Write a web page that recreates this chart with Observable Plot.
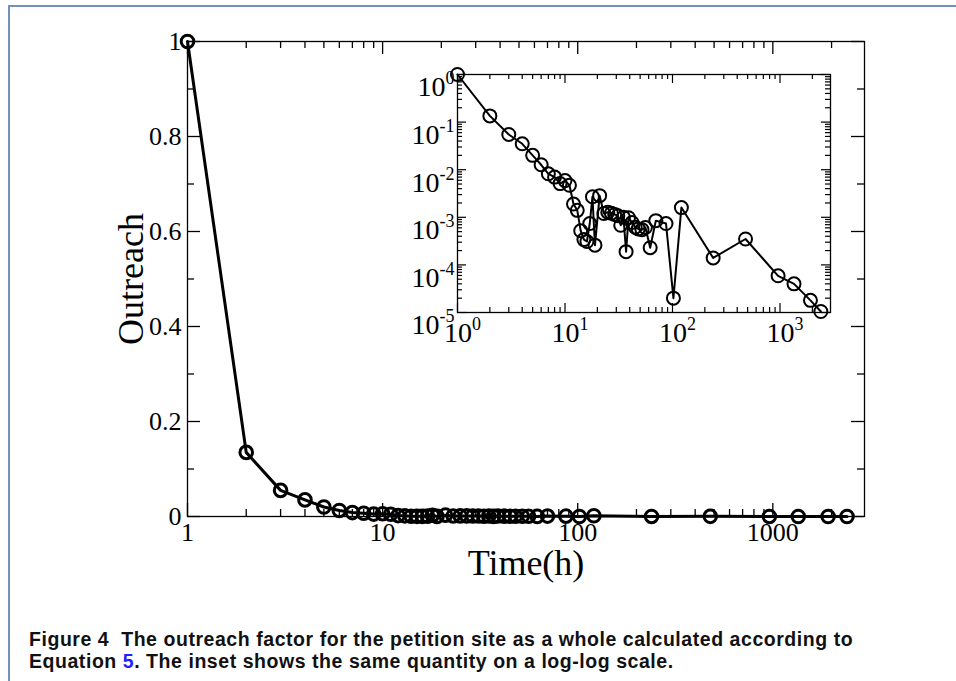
<!DOCTYPE html>
<html><head><meta charset="utf-8">
<script src="https://cdn.jsdelivr.net/npm/d3@7"></script>
<script src="https://cdn.jsdelivr.net/npm/@observablehq/plot@0.6"></script>
<style>
html,body{margin:0;padding:0;background:#fff;}
body{width:956px;height:681px;position:relative;overflow:hidden;font-family:"Liberation Serif",serif;}
#border{position:absolute;left:8px;top:5px;width:960px;height:690px;border-top:2px solid #7391b9;border-left:2px solid #7391b9;}
#main,#inset{position:absolute;left:0;top:0;}
#caption{position:absolute;left:29px;top:628px;font-family:"Liberation Sans",Arial,sans-serif;font-weight:bold;font-size:19.5px;letter-spacing:0.55px;line-height:22px;color:#111;white-space:nowrap;}
#caption .ref{color:#1f1fff;}
</style></head><body>
<div id="border"></div>
<div id="main"></div>
<div id="inset"></div>
<div id="caption">Figure 4&nbsp; The outreach factor for the petition site as a whole calculated according to<br>Equation <span class="ref">5</span>. The inset shows the same quantity on a log-log scale.</div>
<script>
// ---- data ----
const timeHours = [1, 2, 3, 4, 5, 6, 7, 8, 9, 10, 11, 12, 13, 14, 15, 16, 17, 18, 19, 21,
  23, 25, 27, 29, 31, 33, 35, 37, 39, 42, 45, 48, 52, 56, 62, 70, 87, 102, 121, 239,
  478, 960, 1350, 1920, 2400];
const outreach = [1, 0.135, 0.055, 0.035, 0.020, 0.0127, 0.0082, 0.0070, 0.0051, 0.0059,
  0.0047, 0.0019, 0.0014, 0.00052, 0.00034, 0.00031, 0.00074, 0.0027, 0.00026, 0.00285,
  0.0012, 0.00128, 0.00122, 0.00115, 0.00108, 0.00068, 0.0010, 0.00019, 0.00098, 0.00078,
  0.00062, 0.00057, 0.00055, 0.00061, 0.00023, 0.00085, 0.00074, 0.00002, 0.0016, 0.00014,
  0.00035, 0.000059, 0.00004, 0.000018, 0.0000105];

// main axes
const mainXTicks = [1, 10, 100, 1000];
const mainXTickLabels = ["1", "10", "100", "1000"];
const mainYTicks = [0, 0.2, 0.4, 0.6, 0.8, 1];
const mainYTickLabels = ["0", "0.2", "0.4", "0.6", "0.8", "1"];
const mainYMinor = [0.1, 0.3, 0.5, 0.7, 0.9];
// inset axes
const insetXTicks = [1, 10, 100, 1000];
const insetXExponents = ["0", "1", "2", "3"];
const insetYTicks = [1, 0.1, 0.01, 0.001, 0.0001, 0.00001];
const insetYExponents = ["0", "-1", "-2", "-3", "-4", "-5"];
const xLabel = "Time(h)";
const yLabel = "Outreach";

const data = timeHours.map((t, i) => ({t, v: outreach[i]}));
const xMax = 2950;
const logMinor = (decades, max) => decades.flatMap(d => [2,3,4,5,6,7,8,9].map(k => k * d)).filter(v => v <= max);

const W = 956, H = 600;
// ---- main chart ----
{
  const L = 187, R = 864, T = 41, B = 516;
  const fw = R - L, fh = B - T;
  const xMinor = logMinor([1, 10, 100, 1000], xMax);
  const tk = {stroke: "black", strokeWidth: 1.3};
  const chart = Plot.plot({
    width: W, height: H,
    marginLeft: L, marginRight: W - R, marginTop: T, marginBottom: H - B,
    x: {type: "log", domain: [1, xMax]},
    y: {domain: [0, 1]},
    style: {fontFamily: "Liberation Serif", fontSize: "26px", color: "black", background: "none", overflow: "visible"},
    marks: [
      Plot.frame({stroke: "black", strokeWidth: 1.3}),
      Plot.tickX(mainXTicks, {...tk, insetTop: fh - 13}),
      Plot.tickX(xMinor, {...tk, insetTop: fh - 7}),
      Plot.tickX(mainXTicks, {...tk, insetBottom: fh - 13}),
      Plot.tickX(xMinor, {...tk, insetBottom: fh - 7}),
      Plot.tickY(mainYTicks, {...tk, insetRight: fw - 13}),
      Plot.tickY(mainYMinor, {...tk, insetRight: fw - 7}),
      Plot.tickY(mainYTicks, {...tk, insetLeft: fw - 13}),
      Plot.tickY(mainYMinor, {...tk, insetLeft: fw - 7}),
      Plot.axisX({anchor: "bottom", ticks: mainXTicks, tickSize: 0, tickPadding: 6, label: null,
        tickFormat: d => mainXTickLabels[mainXTicks.indexOf(d)], fontSize: 26}),
      Plot.axisY({anchor: "left", ticks: mainYTicks, tickSize: 0, tickPadding: 6, label: null,
        tickFormat: d => mainYTickLabels[mainYTicks.indexOf(d)], fontSize: 26}),
      Plot.text([xLabel], {frameAnchor: "bottom", lineAnchor: "middle", textAnchor: "middle", dy: 47, fontSize: 36, fill: "black"}),
      Plot.text([yLabel], {frameAnchor: "left", lineAnchor: "middle", textAnchor: "middle", dx: -56, rotate: -90, fontSize: 36, fill: "black"}),
      Plot.line(data, {x: "t", y: "v", stroke: "black", strokeWidth: 3}),
      Plot.dot(data, {x: "t", y: "v", r: 6.3, stroke: "black", strokeWidth: 3, fill: "none"})
    ]
  });
  document.getElementById("main").appendChild(chart);
}

// ---- inset ----
{
  const L = 457, R = 830, T = 74, B = 312;
  const fw = R - L, fh = B - T;
  const xMinor = logMinor([1, 10, 100, 1000], xMax);
  const yMinor = logMinor([1e-5, 1e-4, 1e-3, 1e-2, 1e-1], 0.99);
  const tk = {stroke: "black", strokeWidth: 1.2};
  const chart = Plot.plot({
    width: W, height: H,
    marginLeft: L, marginRight: W - R, marginTop: T, marginBottom: H - B,
    x: {type: "log", domain: [1, xMax]},
    y: {type: "log", domain: [1e-5, 1]},
    style: {fontFamily: "Liberation Serif", fontSize: "28px", color: "black", background: "none", overflow: "visible"},
    marks: [
      Plot.frame({stroke: "black", strokeWidth: 1.3}),
      Plot.tickX(insetXTicks, {...tk, insetTop: fh - 9}),
      Plot.tickX(xMinor, {...tk, insetTop: fh - 5}),
      Plot.tickX(insetXTicks, {...tk, insetBottom: fh - 9}),
      Plot.tickX(xMinor, {...tk, insetBottom: fh - 5}),
      Plot.tickY(insetYTicks, {...tk, insetRight: fw - 9}),
      Plot.tickY(yMinor, {...tk, insetRight: fw - 5}),
      Plot.tickY(insetYTicks, {...tk, insetLeft: fw - 9}),
      Plot.tickY(yMinor, {...tk, insetLeft: fw - 5}),
      Plot.axisX({anchor: "bottom", ticks: insetXTicks, tickSize: 0, tickPadding: 10, label: null,
        tickFormat: d => insetXExponents[insetXTicks.indexOf(d)], fontSize: 28}),
      Plot.axisY({anchor: "left", ticks: insetYTicks, tickSize: 0, tickPadding: 3, label: null,
        tickFormat: d => insetYExponents[insetYTicks.indexOf(d)], fontSize: 28}),
      Plot.line(data, {x: "t", y: "v", stroke: "black", strokeWidth: 2}),
      Plot.dot(data, {x: "t", y: "v", r: 6.5, stroke: "black", strokeWidth: 2, fill: "none"})
    ]
  });
  const svg = d3.select(chart.tagName.toLowerCase() === "svg" ? chart : chart.querySelector("svg"));
  const sup = (sel, dyBase, dx) => svg.selectAll(sel).each(function () {
    const t = d3.select(this);
    const e = t.text();
    t.text(null);
    if (dyBase != null) t.attr("dy", dyBase);
    if (dx != null) t.attr("dx", dx);
    t.append("tspan").text("10");
    t.append("tspan").attr("dy", "-12").attr("font-size", 18).text(e);
  });
  sup('g[aria-label="x-axis tick label"] text', null, 5);
  sup('g[aria-label="y-axis tick label"] text', "0.46em", null);
  document.getElementById("inset").appendChild(chart);
}
</script>
</body></html>
